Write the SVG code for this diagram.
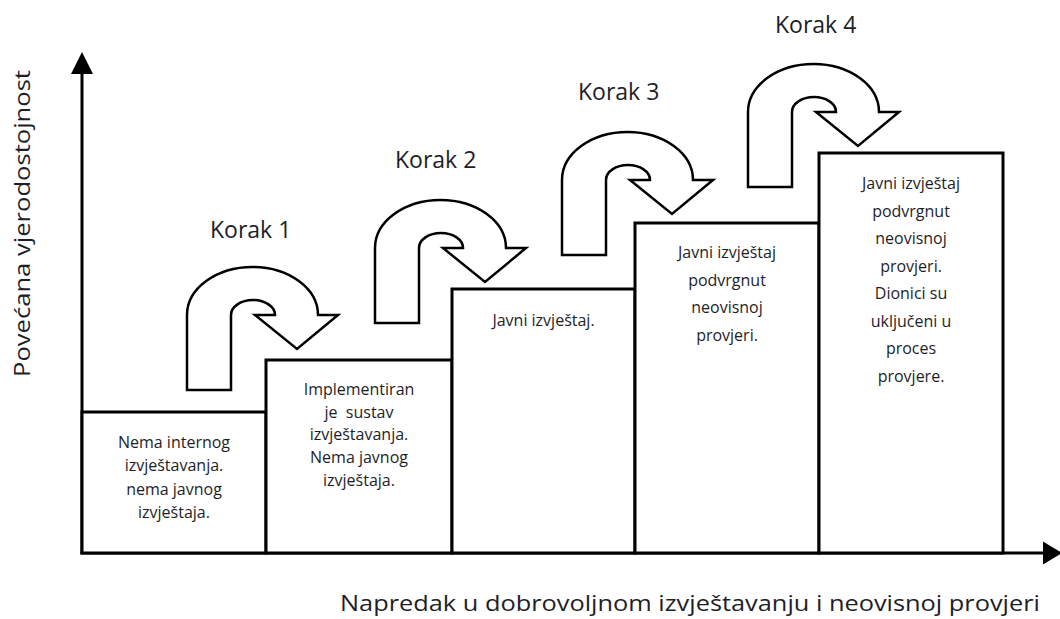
<svg xmlns="http://www.w3.org/2000/svg" width="1060" height="619" viewBox="0 0 1060 619">
<defs>
<style>
.box{fill:#fff;stroke:#000;stroke-width:3}
.arr{fill:#fff;stroke:#000;stroke-width:2.5;stroke-linejoin:miter}
.t{font-family:"Open Sans","Noto Sans",sans-serif;font-size:16px;fill:#1e1e28;text-anchor:middle;white-space:pre}
.k{font-family:"Open Sans","Noto Sans",sans-serif;font-size:23px;fill:#1e1e28}
.ax{font-family:"Open Sans","Noto Sans",sans-serif;font-size:22px;fill:#1e1e28}
.axis{stroke:#000;stroke-width:3;fill:none}
</style>
<path id="uturn" d="M0,123 L0,48 A65.5,48 0 0 1 131,48 L151,48 L110,82 L68,48 L88,48 A22,15 0 0 0 44,48 L44,123 Z"/>
</defs>
<rect width="1060" height="619" fill="#fff"/>

<g id="connectors">
<line class="axis" x1="82" y1="554" x2="82" y2="70"/>
<polygon points="82,52 71,74 93,74" fill="#000"/>
<line class="axis" x1="80.5" y1="553" x2="1046" y2="553"/>
<polygon points="1062,553 1043,541.5 1043,564.5" fill="#000"/>
</g>

<g id="box1"><rect class="box" x="82" y="412" width="184" height="141"/>
<text class="t" x="174" y="448">Nema internog</text>
<text class="t" x="174" y="471">izvještavanja.</text>
<text class="t" x="174" y="495">nema javnog</text>
<text class="t" x="174" y="518">izvještaja.</text></g>

<g id="box2"><rect class="box" x="266" y="360" width="186" height="193"/>
<text class="t" x="359" y="395">Implementiran</text>
<text class="t" x="359" y="418">je  sustav</text>
<text class="t" x="359" y="440">izvještavanja.</text>
<text class="t" x="359" y="463">Nema javnog</text>
<text class="t" x="359" y="486">izvještaja.</text></g>

<g id="box3"><rect class="box" x="452" y="289" width="183" height="264"/>
<text class="t" x="543.5" y="326">Javni izvještaj.</text></g>

<g id="box4"><rect class="box" x="635" y="223" width="184" height="330"/>
<text class="t" x="727" y="258">Javni izvještaj</text>
<text class="t" x="727" y="285.5">podvrgnut</text>
<text class="t" x="727" y="313">neovisnoj</text>
<text class="t" x="727" y="340.5">provjeri.</text></g>

<g id="box5"><rect class="box" x="819" y="153" width="184" height="400"/>
<text class="t" x="911" y="189">Javni izvještaj</text>
<text class="t" x="911" y="216.5">podvrgnut</text>
<text class="t" x="911" y="244">neovisnoj</text>
<text class="t" x="911" y="271.5">provjeri.</text>
<text class="t" x="911" y="299">Dionici su</text>
<text class="t" x="911" y="326.5">uključeni u</text>
<text class="t" x="911" y="354">proces</text>
<text class="t" x="911" y="381.5">provjere.</text></g>

<g id="step1"><use href="#uturn" class="arr" transform="translate(187,267)"/>
<text class="k" x="210" y="238">Korak 1</text></g>
<g id="step2"><use href="#uturn" class="arr" transform="translate(375,200)"/>
<text class="k" x="395" y="168">Korak 2</text></g>
<g id="step3"><use href="#uturn" class="arr" transform="translate(562,132)"/>
<text class="k" x="578" y="100">Korak 3</text></g>
<g id="step4"><use href="#uturn" class="arr" transform="translate(748,64)"/>
<text class="k" x="775" y="33">Korak 4</text></g>

<g id="labels">
<text class="ax" transform="translate(30,223.5) rotate(-90)" text-anchor="middle" textLength="307" lengthAdjust="spacingAndGlyphs">Povećana vjerodostojnost</text>
<text class="ax" x="690" y="611" text-anchor="middle" textLength="700" lengthAdjust="spacingAndGlyphs">Napredak u dobrovoljnom izvještavanju i neovisnoj provjeri</text>
</g>
</svg>
